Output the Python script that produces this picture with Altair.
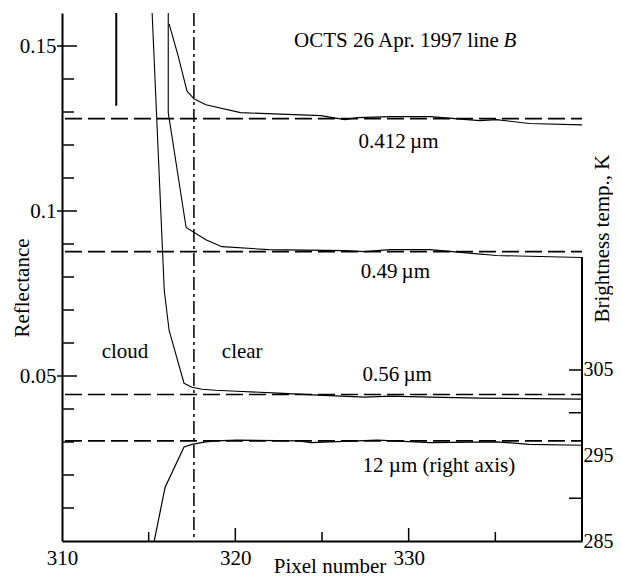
import altair as alt
import pandas as pd

# ---- data ----
px_412 = [316.18, 316.70, 317.21, 317.61, 318.30, 320.30, 324.94, 326.31, 327.06, 328.95, 331.24, 334.10, 335.07, 336.96, 340.0]
r_412 = [0.1567, 0.1470, 0.1364, 0.1340, 0.1322, 0.1298, 0.1289, 0.1277, 0.1283, 0.1286, 0.1286, 0.1274, 0.1277, 0.1265, 0.1261]

px_49 = [316.13, 316.13, 317.16, 318.30, 319.22, 321.91, 326.31, 327.46, 328.95, 331.24, 333.18, 335.07, 340.0]
r_49 = [0.1660, 0.1298, 0.0950, 0.0913, 0.0892, 0.0883, 0.0880, 0.0877, 0.0883, 0.0883, 0.0874, 0.0865, 0.0859]

px_56 = [315.15, 315.90, 316.18, 317.04, 317.50, 318.07, 318.87, 320.07, 322.48, 324.77, 327.46, 328.95, 331.24, 334.10, 340.0]
r_56 = [0.1660, 0.0759, 0.0638, 0.0478, 0.0466, 0.0460, 0.0457, 0.0454, 0.0448, 0.0442, 0.0436, 0.0439, 0.0436, 0.0433, 0.0430]

px_12 = [315.32, 315.95, 317.04, 317.50, 318.30, 318.87, 320.07, 323.62, 324.37, 328.20, 331.24, 335.07, 336.96, 340.0]
k_12 = [285.0, 291.3, 296.0, 296.3, 296.6, 296.7, 296.8, 296.7, 296.5, 296.8, 296.5, 296.6, 296.3, 296.2]

ref_refl = [0.1280, 0.0877, 0.0444]   # dashed clear-sky levels (reflectance)
ref_k = [296.7]                        # dashed level for 12 um (K)
ref_x = [310.17, 340.0]

boundary_x = [317.61]                  # cloud / clear boundary
marker_x, marker_y, marker_y2 = [313.13], [0.1319], [0.165]

label_text = ["0.412\u2009\u00b5m", "0.49\u2009\u00b5m", "0.56\u2009\u00b5m", "12 \u00b5m (right axis)",
              "cloud", "clear", "OCTS 26 Apr. 1997 line "]
label_x = [327.11, 327.23, 327.34, 327.34, 312.29, 319.22, 323.39]
label_y = [0.1192, 0.0796, 0.0484, 0.0209, 0.0554, 0.0554, 0.1497]
italic_text, italic_x, italic_y = ["B"], [335.47], [0.1497]

y_minor = [0.01, 0.02, 0.03, 0.04, 0.06, 0.07, 0.08, 0.09, 0.11, 0.12, 0.13, 0.14]
y_major = [0.05, 0.10, 0.15]
x_major_ticks = [320, 330]
x_minor_ticks = [315, 325, 335]
k_ticks = [290, 300, 305]
k_axis_span = [285.0, 318.2]

x_labels = [310, 320, 330]
y_labels = [0.05, 0.1, 0.15]
k_labels = [285, 295, 305]

# ---- scales / axes ----
FONT = "Liberation Serif"
W, H = 520, 528
XS = alt.Scale(domain=[310, 340], nice=False, zero=False)
YS = alt.Scale(domain=[0, 0.16], nice=False, zero=False)
KS = alt.Scale(domain=[285, 346.75], nice=False, zero=False)

XAX = alt.Axis(title="Pixel number", values=x_labels, format="d", ticks=False, grid=False,
               labelPadding=6, domainWidth=2, labelFlush=False,
               titleX=267.5, titleY=31, titleAlign="center", titleBaseline="alphabetic")
YAX = alt.Axis(title="Reflectance", values=y_labels, format=".2~f", ticks=False, grid=False,
               labelPadding=6, domainWidth=2, titleAngle=270,
               titleX=-34, titleY=274.5, titleAlign="center", titleBaseline="alphabetic")
KAX = alt.Axis(title="Brightness temp., K", orient="right", values=k_labels, format="d",
               ticks=False, grid=False, domain=False, labelPadding=1, labelFontSize=20,
               titleAngle=270, titleX=26, titleY=225, titleAlign="center", titleBaseline="alphabetic")


def X(f):
    return alt.X(f, type="quantitative", scale=XS, axis=XAX)


def Y(f):
    return alt.Y(f, type="quantitative", scale=YS, axis=YAX)


def K(f):
    return alt.Y(f, type="quantitative", scale=KS, axis=KAX)


def curve_df(xs, ys, name):
    return pd.DataFrame({"x": xs, "y": ys, "i": list(range(len(xs))), "s": name})


curves = pd.concat([curve_df(px_412, r_412, "0.412"),
                    curve_df(px_49, r_49, "0.49"),
                    curve_df(px_56, r_56, "0.56")])

refl_lines = alt.Chart(curves).mark_line(color="black", strokeWidth=1.1, clip=True).encode(
    x=X("x"), y=Y("y"), detail="s:N", order="i:Q")

ref_df = pd.DataFrame([{"x": ref_x[0], "x2": ref_x[1], "y": v} for v in ref_refl])
ref_rules = alt.Chart(ref_df).mark_rule(color="black", strokeWidth=1.7, strokeDash=[17, 6]).encode(
    x=X("x"), x2="x2", y=Y("y"))

boundary = alt.Chart(pd.DataFrame({"x": boundary_x})).mark_rule(
    color="black", strokeWidth=1.5, strokeDash=[13, 4, 3, 4]).encode(x=X("x"))

marker = alt.Chart(pd.DataFrame({"x": marker_x, "y": marker_y, "y2": marker_y2})).mark_rule(
    color="black", strokeWidth=2, clip=True).encode(x=X("x"), y=Y("y"), y2="y2")

texts = alt.Chart(pd.DataFrame({"x": label_x, "y": label_y, "t": label_text})).mark_text(
    font=FONT, fontSize=21, align="left", baseline="alphabetic", color="black").encode(
    x=X("x"), y=Y("y"), text="t:N")

italic = alt.Chart(pd.DataFrame({"x": italic_x, "y": italic_y, "t": italic_text})).mark_text(
    font=FONT, fontSize=21, fontStyle="italic", align="left", baseline="alphabetic", color="black").encode(
    x=X("x"), y=Y("y"), text="t:N")

ytick_minor = alt.Chart(pd.DataFrame({"v": y_minor})).mark_rule(color="black", strokeWidth=1.5).encode(
    y=Y("v"), x=alt.value(0), x2=alt.value(12))
ytick_major = alt.Chart(pd.DataFrame({"v": y_major})).mark_rule(color="black", strokeWidth=1.5).encode(
    y=Y("v"), x=alt.value(-5), x2=alt.value(15))
xtick_major = alt.Chart(pd.DataFrame({"v": x_major_ticks})).mark_rule(color="black", strokeWidth=1.5).encode(
    x=X("v"), y=alt.value(H - 13), y2=alt.value(H))
xtick_minor = alt.Chart(pd.DataFrame({"v": x_minor_ticks})).mark_rule(color="black", strokeWidth=1.5).encode(
    x=X("v"), y=alt.value(H - 9), y2=alt.value(H))

layer_refl = alt.layer(refl_lines, ref_rules, boundary, marker, texts, italic,
                       ytick_minor, ytick_major, xtick_major, xtick_minor)

# right-axis (brightness temperature) layer
bt_line = alt.Chart(curve_df(px_12, k_12, "12")).mark_line(color="black", strokeWidth=1.2, clip=True).encode(
    x=X("x"), y=K("y"), order="i:Q")
bt_ref = alt.Chart(pd.DataFrame({"x": [ref_x[0]], "x2": [ref_x[1]], "y": ref_k})).mark_rule(
    color="black", strokeWidth=1.7, strokeDash=[17, 6]).encode(x=X("x"), x2="x2", y=K("y"))
k_tick_rules = alt.Chart(pd.DataFrame({"v": k_ticks})).mark_rule(color="black", strokeWidth=1.5).encode(
    y=K("v"), x=alt.value(W - 13), x2=alt.value(W))
k_axis_line = alt.Chart(pd.DataFrame({"a": [k_axis_span[0]], "b": [k_axis_span[1]]})).mark_rule(
    color="black", strokeWidth=2).encode(y=K("a"), y2="b", x=alt.value(W))

layer_bt = alt.layer(bt_line, bt_ref, k_tick_rules, k_axis_line)

chart = alt.layer(layer_refl, layer_bt).resolve_scale(y="independent").properties(
    width=W, height=H,
    autosize=alt.AutoSizeParams(type="none"),
    padding={"left": 54, "top": 5, "right": 31, "bottom": 36},
    background="white",
).configure_axis(
    labelFont=FONT, labelFontSize=21, labelColor="black",
    titleFont=FONT, titleFontSize=21, titleFontWeight="normal", titleColor="black",
    domainColor="black",
).configure_view(stroke=None)

chart.save("out.html", embed_options={"renderer": "svg", "actions": False})
